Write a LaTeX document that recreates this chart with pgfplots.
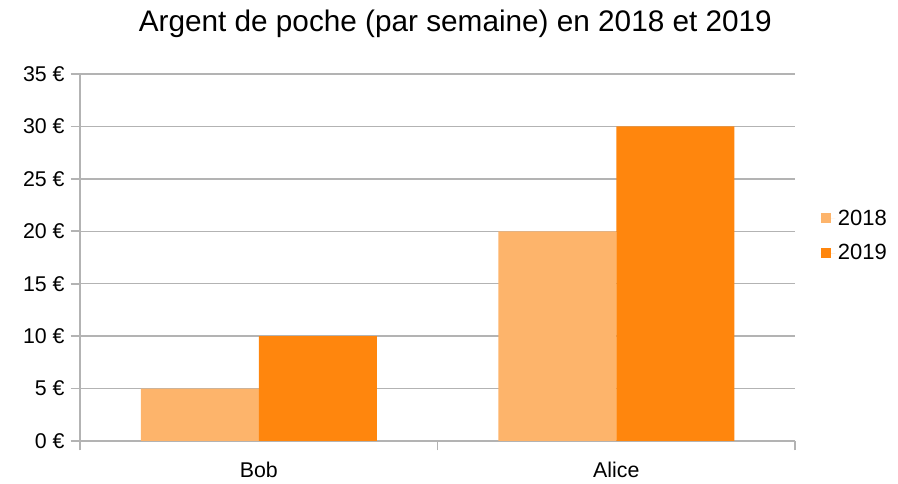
\documentclass[border=0pt]{standalone}
\usepackage{pgfplots}
\pgfplotsset{compat=1.18}
\usepackage{fontspec}
\setmainfont{Liberation Sans}
\definecolor{c2018}{HTML}{FDB46B}
\definecolor{c2019}{HTML}{FF860D}
\definecolor{gridgray}{HTML}{B3B3B3}
\begin{document}
\begin{tikzpicture}[x=1pt,y=1pt]
\begin{axis}[
  at={(60pt,32.25pt)}, anchor=south west,
  scale only axis, width=536.25pt, height=275.25pt,
  ybar=0pt, bar width=88.5pt,
  xmin=-0.5, xmax=1.5, ymin=0, ymax=35,
  xtick={-0.5,0.5,1.5}, xticklabels={},
  x tick style={gridgray, line width=1.2pt},
  extra x ticks={0,1}, extra x tick labels={Bob,Alice},
  extra x tick style={major tick length=0pt, grid=none},
  ytick={0,5,...,35},
  yticklabel={\pgfmathprintnumber{\tick} €},
  /pgf/number format/assume math mode=true,
  ymajorgrids, grid style={gridgray, line width=1pt},
  y tick style={gridgray, line width=1.2pt}, major tick length=7pt, tick align=outside,
  axis x line*=bottom, axis y line*=left,
  axis line style={gridgray, line width=1.3pt, -},
  ticklabel style={font=\fontsize{16}{19}\selectfont, text=black},
  yticklabel style={xshift=-1pt},
  extra x tick style={xticklabel style={yshift=-12pt}},
  legend style={at={(1,0.559)}, anchor=west, xshift=16pt, draw=none, fill=none,
    font=\fontsize{16.5}{19}\selectfont, row sep=9pt,
    legend cell align=left},
  legend image code/.code={\fill[#1] (0pt,-3.75pt) rectangle (7.5pt,3.75pt); \path (0pt,0pt) -- (11pt,0pt);},
]
\addplot[fill=c2018, draw=none] coordinates {(0,5) (1,20)};
\addplot[fill=c2019, draw=none] coordinates {(0,10) (1,30)};
\legend{2018,2019}
\end{axis}
\node[anchor=center,font=\fontsize{22.3}{26}\selectfont] at (341.5,345.5) {Argent de poche (par semaine) en 2018 et 2019};
\pgfresetboundingbox
\useasboundingbox (0,0) rectangle (673.5,363);
\end{tikzpicture}
\end{document}
